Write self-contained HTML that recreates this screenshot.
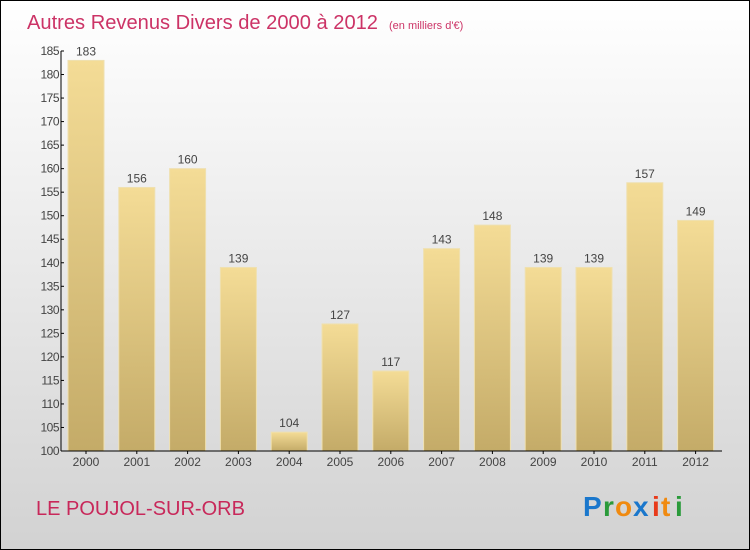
<!DOCTYPE html>
<html><head><meta charset="utf-8"><style>
html,body{margin:0;padding:0}
body{width:750px;height:550px;overflow:hidden;font-family:"Liberation Sans",sans-serif}
#wrap{position:absolute;left:0;top:0;width:748px;height:548px;border:1px solid #000;background:linear-gradient(#fff,#d2d2d2)}
</style></head><body>
<div id="wrap">
<svg width="750" height="550" style="position:absolute;left:-1px;top:-1px">
<defs>
<linearGradient id="bg" x1="0" y1="0" x2="0" y2="1"><stop offset="0" stop-color="#f4dc96"/><stop offset="1" stop-color="#c4ab68"/></linearGradient>
</defs>
<text x="27" y="29" font-size="20" fill="#cc3366"><tspan textLength="351" lengthAdjust="spacingAndGlyphs">Autres Revenus Divers de 2000 à 2012</tspan><tspan x="389" font-size="11">(en milliers d'€)</tspan></text>
<g id="bars"></g>
<g id="axis"></g>
<text x="36" y="515" font-size="20" fill="#c8285a">LE POUJOL-SUR-ORB</text>
<g font-size="28" font-weight="bold">
<text x="583" y="516" fill="#1a77cc">P</text><text x="603" y="516" fill="#2a9a3a">r</text><text x="615" y="516" fill="#f08a10">o</text><text x="633" y="516" fill="#1a77cc">x</text><text x="652" y="516" fill="#e83a1a">i</text><text x="661" y="516" fill="#f08a10">t</text><text x="675" y="516" fill="#2a9a3a">i</text>
</g>
</svg>
</div>
<script>
const years=["2000","2001","2002","2003","2004","2005","2006","2007","2008","2009","2010","2011","2012"];
const values=[183,156,160,139,104,127,117,143,148,139,139,157,149];
const ticks=[100,105,110,115,120,125,130,135,140,145,150,155,160,165,170,175,180,185];
const NS="http://www.w3.org/2000/svg";
const x0=62,pitch=50.8,bw=36,yb=451,ppu=400/85;
const y=v=>yb-(v-100)*ppu;
const xc=i=>x0+24+i*pitch;
function mk(t,a,p){const e=document.createElementNS(NS,t);for(const k in a)e.setAttribute(k,a[k]);p.appendChild(e);return e;}
const bars=document.getElementById('bars'),ax=document.getElementById('axis');
values.forEach((v,i)=>{
 const r=mk('rect',{x:xc(i)-bw/2,y:y(v),width:bw,height:yb-y(v),fill:'url(#bg)',stroke:'#efe0b0','stroke-width':1},bars);
 
 
 const t=mk('text',{x:xc(i),y:y(v)-5,'font-size':12,fill:'#444','text-anchor':'middle'},bars);t.textContent=v;
 
 
 const l=mk('text',{x:xc(i),y:yb+15,'font-size':12,fill:'#444','text-anchor':'middle'},ax);l.textContent=years[i];
 
 
 mk('line',{x1:xc(i),x2:xc(i),y1:yb,y2:yb+3,stroke:'#000'},ax);
});
mk('line',{x1:x0-1,x2:x0-1,y1:y(185),y2:yb,stroke:'#000'},ax);
mk('line',{x1:x0-1,x2:722,y1:yb,y2:yb,stroke:'#000'},ax);
ticks.forEach(t=>{
 mk('line',{x1:x0-1,x2:x0+2,y1:y(t),y2:y(t),stroke:'#000'},ax);
 const e=mk('text',{x:x0-3,y:y(t)+4,'font-size':12,fill:'#444','text-anchor':'end','letter-spacing':'-0.5'},ax);e.textContent=t;
 
 
});
</script>
</body></html>
